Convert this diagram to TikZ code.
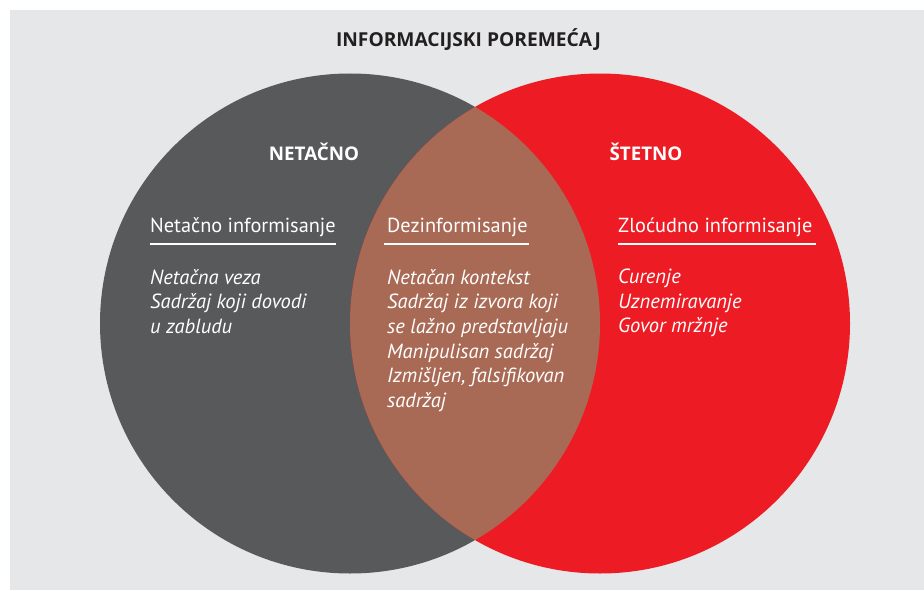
\documentclass[tikz,border=0pt]{standalone}
\usepackage{fontspec}
\setmainfont{PT Sans}
\newfontfamily\debeli{Open Sans}
\usepackage{tikz}
\usetikzlibrary{positioning}
\definecolor{pozadina}{HTML}{E6E7E8}
\definecolor{sivo}{HTML}{58595B}
\definecolor{crveno}{HTML}{ED1C24}
\definecolor{presjek}{HTML}{A96A55}
\definecolor{naslovboja}{HTML}{231F20}
\tikzset{
  naslov/.style = {inner sep=0pt, font=\debeli\fontsize{19.2}{22}\selectfont\bfseries,
    text=naslovboja},
  skup/.style = {inner sep=0pt, font=\debeli\fontsize{18.8}{22}\selectfont\bfseries,
    text=white},% ime skupa
  vrsta/.style = {inner sep=0pt, anchor=base west,
    font=\fontsize{20.3}{24}\selectfont, text=white},% vrsta poremecaja
  stavke/.style = {inner sep=0pt, anchor=north west, align=left,
    font=\fontsize{20.5}{24.6}\selectfont\itshape, text=white},% primjeri
  crta/.style = {white, line width=1.4pt}
}

\begin{document}
\begin{tikzpicture}[x=1pt,y=-1pt]
\useasboundingbox (0,0) rectangle (924,591);
\fill[white] (0,0) rectangle (924,591);
\fill[pozadina] (10,10) rectangle (924,590);

% krugovi
\fill[sivo] (350,323.5) circle[radius=250pt];
\fill[crveno] (600,323.5) circle[radius=250pt];
\begin{scope}
  \clip (350,323.5) circle[radius=250pt];
  \fill[presjek] (600,323.5) circle[radius=250pt];
\end{scope}

\node[naslov] (t) at (468.5,40) {INFORMACIJSKI POREMEĆAJ};
\node[skup] (net) at (314,152) {NETAČNO};
\node[skup] (stet) at (646,152) {ŠTETNO};

\node[vrsta] (v1) at (150,233) {Netačno informisanje};
\node[vrsta] (v2) at (387,233) {Dezinformisanje};
\node[vrsta] (v3) at (618,233) {Zloćudno informisanje};

\draw[crta] ([yshift=-11pt]v1.base west) -- ([yshift=-11pt]v1.base east);
\draw[crta] ([xshift=-3pt,yshift=-11pt]v2.base west) -- ([xshift=1pt,yshift=-11pt]v2.base east);
\draw[crta] ([yshift=-11pt]v3.base west) -- ([xshift=3pt,yshift=-11pt]v3.base east);

\node[stavke] (s1) at (150,269) {Netačna veza\\Sadržaj koji dovodi\\u zabludu};
\node[stavke] (s2) at (387,269) {Netačan kontekst\\Sadržaj iz izvora koji\\se lažno predstavljaju\\Manipulisan sadržaj\\Izmišljen, falsifikovan\\sadržaj};
\node[stavke] (s3) at (618,269) {Curenje\\Uznemiravanje\\Govor mržnje};
\end{tikzpicture}
\end{document}
